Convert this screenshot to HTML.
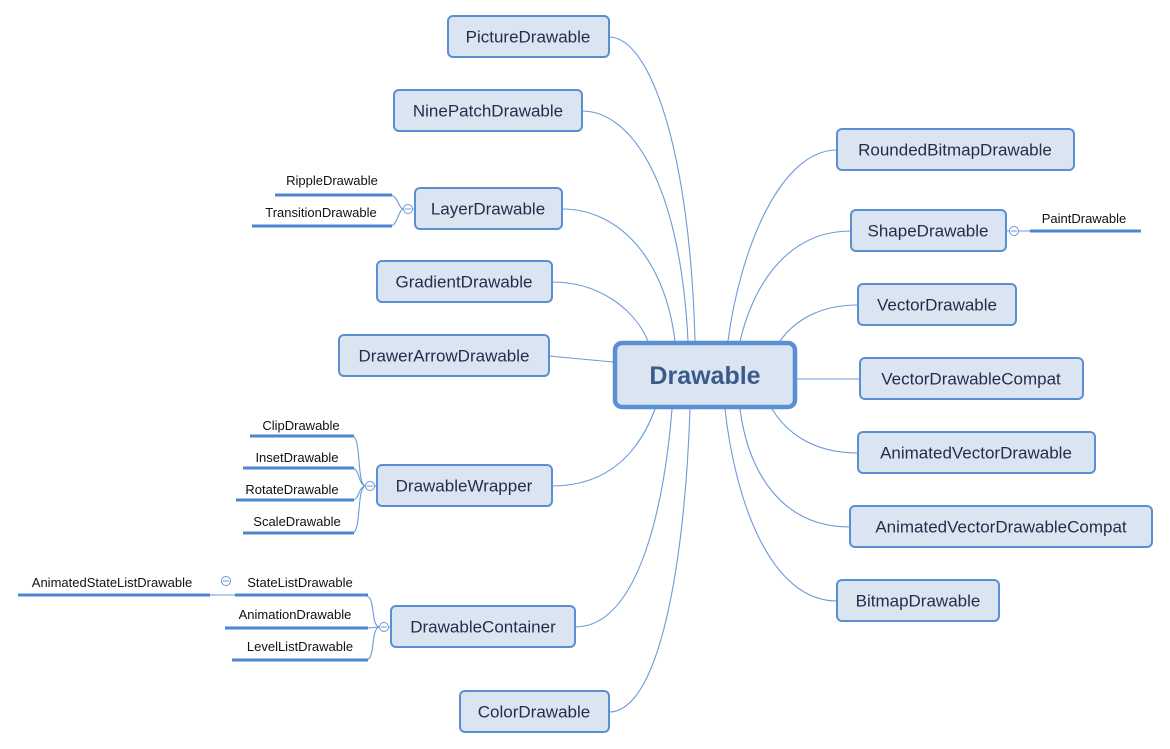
<!DOCTYPE html>
<html><head><meta charset="utf-8"><style>
html,body{margin:0;padding:0;background:#fff;}
svg{display:block;}
.n{fill:#dbe5f2;stroke:#5a8fd4;stroke-width:2;}
.t{font-family:"Liberation Sans",sans-serif;font-size:17px;fill:#1f2f4a;text-anchor:middle;dominant-baseline:central;}
.s{font-family:"Liberation Sans",sans-serif;font-size:13px;fill:#111;text-anchor:middle;}
.c{fill:none;stroke:#6b9ad8;stroke-width:1.1;}
.u{stroke:#4f86d3;stroke-width:3;}
.k{fill:#fff;stroke:#6b9ad8;stroke-width:1;}
</style></head><body>
<svg width="1170" height="749" viewBox="0 0 1170 749" xmlns="http://www.w3.org/2000/svg">
<!-- connectors -->
<g class="c">
<path d="M609,37 C650,37 690,150 695,341"/>
<path d="M582,111 C630,111 680,180 688,341"/>
<path d="M562,209 C620,209 665,260 675,341"/>
<path d="M552,282 C600,282 635,310 648,341"/>
<path d="M549,356 L613,362"/>
<path d="M552,486 C610,486 640,450 655,409"/>
<path d="M575,627 C640,627 665,500 672,409"/>
<path d="M609,712 C660,712 685,560 690,409"/>
<path d="M837,150 C780,150 740,250 728,341"/>
<path d="M851,231 C790,231 755,280 740,341"/>
<path d="M858,305 C820,305 795,320 780,341"/>
<path d="M797,379 L860,379"/>
<path d="M858,453 C810,453 785,430 772,409"/>
<path d="M850,527 C780,527 748,470 740,409"/>
<path d="M837,601 C770,601 735,500 725,409"/>
<!-- subtopic connectors -->
<path d="M415,209 L410,209 M404,209 C398,209 398,195 390,195 M404,209 C398,209 398,226 390,226"/>
<path d="M377,486 L374,486 M366,486 C356,486 362,436 352,436 M366,486 C358,486 360,468 352,468 M366,486 C358,486 360,500 352,500 M366,486 C356,486 362,533 352,533"/>
<path d="M391,627 L388,627 M380,627 C370,627 376,596 366,596 M380,627 L368,628 M380,627 C370,627 376,660 366,660"/>
<path d="M210,595 L235,595"/>
<path d="M1006,231 L1010,231 M1018,231 L1030,231"/>
</g>
<!-- leaf underlines -->
<g class="u">
<line x1="275" y1="195" x2="392" y2="195"/>
<line x1="252" y1="226" x2="392" y2="226"/>
<line x1="250" y1="436" x2="354" y2="436"/>
<line x1="243" y1="468" x2="354" y2="468"/>
<line x1="236" y1="500" x2="354" y2="500"/>
<line x1="243" y1="533" x2="354" y2="533"/>
<line x1="235" y1="595" x2="368" y2="595"/>
<line x1="225" y1="628" x2="368" y2="628"/>
<line x1="232" y1="660" x2="368" y2="660"/>
<line x1="18" y1="595" x2="210" y2="595"/>
<line x1="1030" y1="231" x2="1141" y2="231"/>
</g>
<g class="k">
<circle cx="408" cy="209" r="4.5"/><circle cx="370" cy="486" r="4.5"/><circle cx="384" cy="627" r="4.5"/><circle cx="226" cy="581" r="4.5"/><circle cx="1014" cy="231" r="4.5"/>
</g>
<g stroke="#6b9ad8" stroke-width="1">
<line x1="405" y1="209" x2="411" y2="209"/><line x1="367" y1="486" x2="373" y2="486"/><line x1="381" y1="627" x2="387" y2="627"/><line x1="223" y1="581" x2="229" y2="581"/><line x1="1011" y1="231" x2="1017" y2="231"/>
</g>
<g class="s">
<text x="332" y="185">RippleDrawable</text>
<text x="321" y="217">TransitionDrawable</text>
<text x="301" y="430">ClipDrawable</text>
<text x="297" y="462">InsetDrawable</text>
<text x="292" y="494">RotateDrawable</text>
<text x="297" y="526">ScaleDrawable</text>
<text x="300" y="587">StateListDrawable</text>
<text x="295" y="619">AnimationDrawable</text>
<text x="300" y="651">LevelListDrawable</text>
<text x="112" y="587">AnimatedStateListDrawable</text>
<text x="1084" y="223">PaintDrawable</text>
</g>
<!-- nodes -->
<g>
<rect class="n" x="448" y="16" width="161" height="41" rx="5"/><text class="t" x="528" y="37">PictureDrawable</text>
<rect class="n" x="394" y="90" width="188" height="41" rx="5"/><text class="t" x="488" y="111">NinePatchDrawable</text>
<rect class="n" x="415" y="188" width="147" height="41" rx="5"/><text class="t" x="488" y="209">LayerDrawable</text>
<rect class="n" x="377" y="261" width="175" height="41" rx="5"/><text class="t" x="464" y="282">GradientDrawable</text>
<rect class="n" x="339" y="335" width="210" height="41" rx="5"/><text class="t" x="444" y="356">DrawerArrowDrawable</text>
<rect class="n" x="377" y="465" width="175" height="41" rx="5"/><text class="t" x="464" y="486">DrawableWrapper</text>
<rect class="n" x="391" y="606" width="184" height="41" rx="5"/><text class="t" x="483" y="627">DrawableContainer</text>
<rect class="n" x="460" y="691" width="149" height="41" rx="5"/><text class="t" x="534" y="712">ColorDrawable</text>
<rect class="n" x="837" y="129" width="237" height="41" rx="5"/><text class="t" x="955" y="150">RoundedBitmapDrawable</text>
<rect class="n" x="851" y="210" width="155" height="41" rx="5"/><text class="t" x="928" y="231">ShapeDrawable</text>
<rect class="n" x="858" y="284" width="158" height="41" rx="5"/><text class="t" x="937" y="305">VectorDrawable</text>
<rect class="n" x="860" y="358" width="223" height="41" rx="5"/><text class="t" x="971" y="379">VectorDrawableCompat</text>
<rect class="n" x="858" y="432" width="237" height="41" rx="5"/><text class="t" x="976" y="453">AnimatedVectorDrawable</text>
<rect class="n" x="850" y="506" width="302" height="41" rx="5"/><text class="t" x="1001" y="527">AnimatedVectorDrawableCompat</text>
<rect class="n" x="837" y="580" width="162" height="41" rx="5"/><text class="t" x="918" y="601">BitmapDrawable</text>
<rect x="615" y="343" width="180" height="64" rx="7" fill="#dbe5f2" stroke="#5a8fd4" stroke-width="4.5"/>
<text x="705" y="376" text-anchor="middle" dominant-baseline="central" font-family="Liberation Sans, sans-serif" font-size="25" font-weight="bold" fill="#3a5a8c">Drawable</text>
</g>
</svg>
</body></html>
